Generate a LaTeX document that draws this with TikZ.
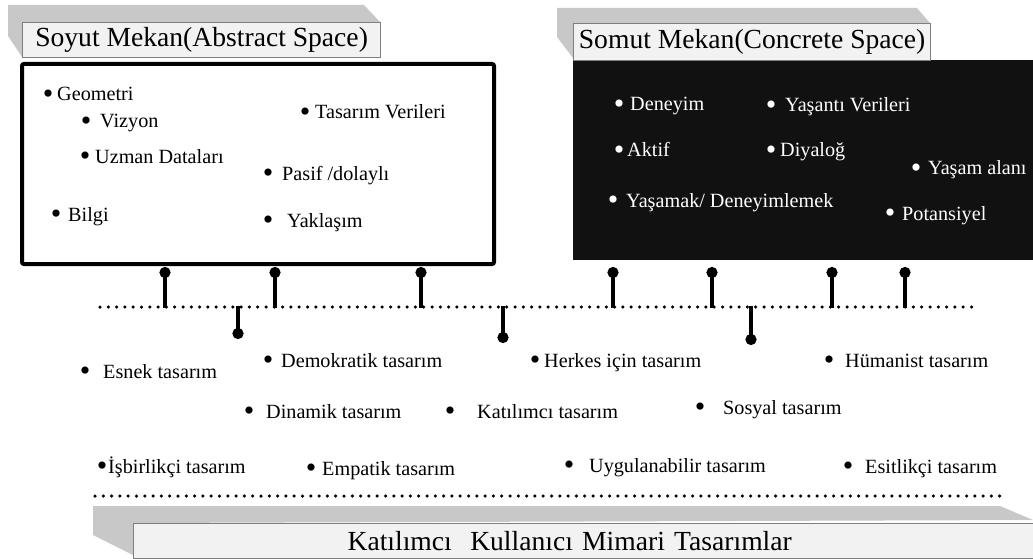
\documentclass[tikz,border=0pt]{standalone}
\usepackage{fontspec}
\setmainfont{Liberation Serif}
\newfontfamily\docfont{Liberation Serif}
\usetikzlibrary{arrows.meta, positioning}
\definecolor{ShadeGray}{HTML}{C8C8C8}
\definecolor{HeadFill}{HTML}{F2F2F2}
\definecolor{HeadLine}{HTML}{7F7F7F}
\definecolor{ConcBlack}{HTML}{111111}
\newcommand{\bul}[1]{\makebox[7pt][c]{\fontsize{30}{30}\selectfont\raisebox{-2.6pt}{\textbullet}}\hspace{#1pt}}
\tikzset{
    % title plates
    header/.style={
        rectangle,
        draw=HeadLine,
        fill=HeadFill,
        line width=1.2pt,
        anchor=north west,
        inner sep=0pt,
        font=\docfont\fontsize{27.6}{32}\selectfont
    },
    shade/.style={
        fill=ShadeGray,
        draw=none
    },
    % space boxes
    absbox/.style={
        rectangle,
        draw=black,
        fill=white,
        line width=4pt,
        rounded corners=2pt,
        anchor=north west,
        minimum width=472pt,
        minimum height=200pt
    },
    concbox/.style={
        rectangle,
        fill=ConcBlack,
        anchor=north west,
        minimum width=460pt,
        minimum height=200pt
    },
    % bullet texts
    item/.style={
        anchor=base west,
        inner sep=0pt,
        font=\docfont\fontsize{20.2}{24}\selectfont
    },
    itemw/.style={
        item,
        text=white
    },
    % lines
    dotline/.style={
        line width=3.5pt,
        line cap=round,
        dash pattern=on 0pt off 8.3pt
    },
    stem/.style={
        -{Circle[length=11pt]},
        line width=3.5pt
    }
}
\begin{document}
\begin{tikzpicture}[x=1pt, y=-1pt]
    \useasboundingbox (0,0) rectangle (1033,559);

    % abstract space
    \fill[shade] (8,5) -- (364,5) -- (380,22) -- (22,22) -- (22,57) -- (8,36) -- cycle;
    \node[header, minimum width=358pt, minimum height=35pt] (abshead) at (22,22) {Soyut Mekan(Abstract Space)};
    \node[absbox] (abs) at (20,62) {};

    \node[item] (geo) at (44.5,101) {\bul{5.5}Geometri};
    \node[item] (viz) at (82.5,128) {\bul{10.5}Vizyon};
    \node[item] (uzm) at (81.5,163) {\bul{6.5}Uzman Dataları};
    \node[item] (bil) at (52.5,221) {\bul{8.5}Bilgi};
    \node[item] (tsv) at (301.5,119) {\bul{6.5}Tasarım Verileri};
    \node[item] (pas) at (264.5,180) {\bul{10.5}Pasif /dolaylı};
    \node[item] (yak) at (264.5,227) {\bul{15.5}Yaklaşım};

    % concrete space
    \fill[shade] (557,8) -- (917,8) -- (930,23) -- (573,23) -- (573,58) -- (557,37) -- cycle;
    \node[concbox] (conc) at (573,60) {};
    \node[header, minimum width=357pt, minimum height=37pt] (conchead) at (573,23) {Somut Mekan(Concrete Space)};

    \node[itemw] (den) at (615.5,111) {\bul{7.5}Deneyim};
    \node[itemw] (yve) at (767.5,112) {\bul{10.5}Yaşantı Verileri};
    \node[itemw] (akt) at (615.5,157) {\bul{4.5}Aktif};
    \node[itemw] (diy) at (767.5,157) {\bul{5.5}Diyaloğ};
    \node[itemw] (yal) at (912.5,175) {\bul{8.5}Yaşam alanı};
    \node[itemw] (yas) at (609.5,207) {\bul{9.5}Yaşamak/ Deneyimlemek};
    \node[itemw] (pot) at (886.5,220) {\bul{8.5}Potansiyel};

    % axis with pins
    \draw[dotline] (100,307) -- (978,307);
    \foreach \x in {165,275,421,613,712,832,905}
        \draw[stem] (\x,308) -- (\x,267);
    \foreach \x/\y in {238/339,503/343,751/345}
        \draw[stem] (\x,306) -- (\x,\y);

    % design approaches
    \node[item] (esn) at (81.5,378) {\bul{14.5}Esnek tasarım};
    \node[item] (dem) at (264.5,367) {\bul{9.5}Demokratik tasarım};
    \node[item] (din) at (245.5,418) {\bul{13.5}Dinamik tasarım};
    \node[item] (kat) at (446.5,418) {\bul{23.5}Katılımcı tasarım};
    \node[item] (her) at (531.5,367) {\bul{5.5}Herkes için tasarım};
    \node[item] (hum) at (825.5,367) {\bul{12.5}Hümanist tasarım};
    \node[item] (sos) at (696.5,414) {\bul{19.5}Sosyal tasarım};
    \node[item] (isb) at (98.5,473) {\bul{2.5}İşbirlikçi tasarım};
    \node[item] (emp) at (307.5,475) {\bul{7.5}Empatik tasarım};
    \node[item] (uyg) at (565.5,472) {\bul{16.5}Uygulanabilir tasarım};
    \node[item] (esi) at (844.5,473) {\bul{13.5}Esitlikçi tasarım};

    \draw[dotline] (95,496) -- (1004,496);

    % bottom plate
    \fill[shade] (93,506) -- (1000,506) -- (1033,520) -- (133,523) -- (133,555) -- (93,535) -- cycle;
    \node[header, minimum height=35pt, text width=479pt, inner xsep=214pt, align=left] (parthead) at (133,523) {Katılımcı\ \ Kullanıcı Mimari Tasarımlar};
\end{tikzpicture}
\end{document}
